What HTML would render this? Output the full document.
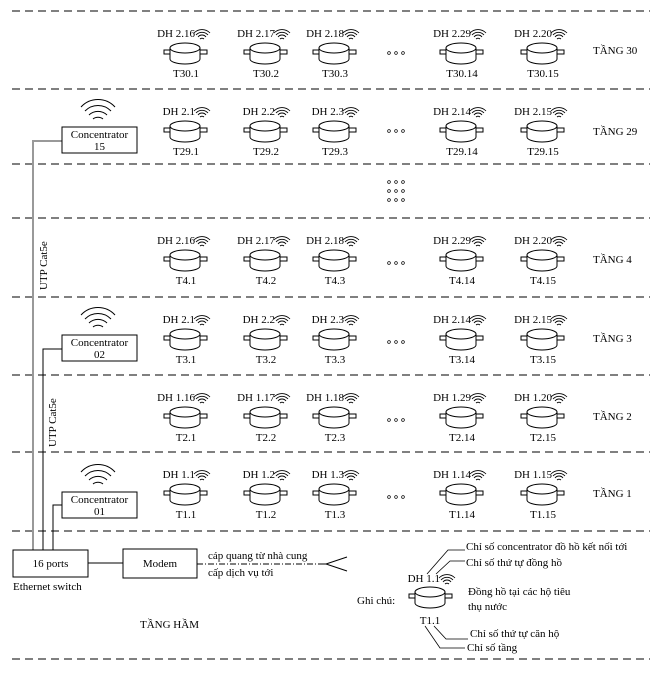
<!DOCTYPE html>
<html><head><meta charset="utf-8"><style>
html,body{margin:0;padding:0;background:#fff}
svg{display:block}
text{font-family:"Liberation Serif",serif;font-size:11px;fill:#000}
</style></head><body>
<svg width="662" height="680" viewBox="0 0 662 680" xmlns="http://www.w3.org/2000/svg">
<defs>
<g id="m" fill="#fff" stroke="#000" stroke-width="1">
<rect x="-21" y="2" width="6" height="4"/>
<rect x="15" y="2" width="7" height="4"/>
<path d="M-15,0 L-15,11 A15,5 0 0 0 15,11 L15,0"/>
<ellipse cx="0" cy="0" rx="15" ry="5"/>
</g>
<g id="w" fill="none" stroke="#000" stroke-width="0.9">
<path d="M-2,-2 A3,3 0 0 1 2,-2"/>
<path d="M-4,-4 A5,5 0 0 1 4,-4"/>
<path d="M-6,-6 A8,8 0 0 1 6,-6"/>
<path d="M-8,-8 A11,11 0 0 1 8,-8"/>
</g>
<g id="bw" fill="none" stroke="#000" stroke-width="1">
<path d="M-5,-6 A8,8 0 0 1 5,-6"/>
<path d="M-9,-10 A13,13 0 0 1 9,-10"/>
<path d="M-13,-14 A18,18 0 0 1 13,-14"/>
<path d="M-17,-18 A23,23 0 0 1 17,-18"/>
</g>
<g id="d"><circle cx="-7" cy="0" r="1.4" fill="none" stroke="#000" stroke-width="0.7"/><circle cx="0" cy="0" r="1.4" fill="none" stroke="#000" stroke-width="0.7"/><circle cx="7" cy="0" r="1.4" fill="none" stroke="#000" stroke-width="0.7"/></g>
</defs>
<g stroke="#000" stroke-width="1" stroke-dasharray="8,5">
<line x1="12" y1="11" x2="650" y2="11"/>
<line x1="12" y1="89" x2="650" y2="89"/>
<line x1="12" y1="164" x2="650" y2="164"/>
<line x1="12" y1="218" x2="650" y2="218"/>
<line x1="12" y1="297" x2="650" y2="297"/>
<line x1="12" y1="375" x2="650" y2="375"/>
<line x1="12" y1="452" x2="650" y2="452"/>
<line x1="12" y1="531" x2="650" y2="531"/>
<line x1="12" y1="659" x2="650" y2="659"/>
</g>
<!-- cables -->
<polyline points="62,141 33,141 33,550" fill="none" stroke="#999" stroke-width="2"/>
<polyline points="62,349 43,349 43,550" fill="none" stroke="#000" stroke-width="1"/>
<polyline points="62,505 53,505 53,550" fill="none" stroke="#000" stroke-width="1"/>
<text transform="translate(47,290) rotate(-90)">UTP Cat5e</text>
<text transform="translate(56,447) rotate(-90)">UTP Cat5e</text>
<!-- concentrators -->
<rect x="62" y="127" width="75" height="26" fill="#fff" stroke="#000"/>
<text x="99.5" y="138" text-anchor="middle">Concentrator</text><text x="99.5" y="150" text-anchor="middle">15</text>
<use href="#bw" x="98" y="125"/>
<rect x="62" y="335" width="75" height="26" fill="#fff" stroke="#000"/>
<text x="99.5" y="346" text-anchor="middle">Concentrator</text><text x="99.5" y="358" text-anchor="middle">02</text>
<use href="#bw" x="98" y="333"/>
<rect x="62" y="492" width="75" height="26" fill="#fff" stroke="#000"/>
<text x="99.5" y="503" text-anchor="middle">Concentrator</text><text x="99.5" y="515" text-anchor="middle">01</text>
<use href="#bw" x="98" y="490"/>
<!-- switch/modem -->
<rect x="13" y="550" width="75" height="27" fill="#fff" stroke="#000"/>
<text x="50.5" y="567" text-anchor="middle">16 ports</text>
<text x="13" y="590">Ethernet switch</text>
<line x1="88" y1="563" x2="123" y2="563" stroke="#000"/>
<rect x="123" y="549" width="74" height="29" fill="#fff" stroke="#000"/>
<text x="160" y="567" text-anchor="middle">Modem</text>
<line x1="197" y1="564" x2="325" y2="564" stroke="#000" stroke-dasharray="6,2,1,2"/>
<polyline points="347,557 326,564 347,571" fill="none" stroke="#000"/>
<line x1="318" y1="564" x2="327" y2="564" stroke="#000"/>
<text x="208" y="559">cáp quang từ nhà cung</text>
<text x="208" y="576">cấp dịch vụ tới</text>
<text x="140" y="628">TẦNG HẦM</text>
<!-- rows -->
<!-- row30 T=11 -->
<g>
<use href="#m" x="185" y="48"/><use href="#m" x="265" y="48"/><use href="#m" x="334" y="48"/><use href="#m" x="461" y="48"/><use href="#m" x="542" y="48"/>
<use href="#w" x="202" y="41"/><use href="#w" x="282" y="41"/><use href="#w" x="351" y="41"/><use href="#w" x="478" y="41"/><use href="#w" x="559" y="41"/>
<text x="195" y="37" text-anchor="end">DH 2.16</text><text x="275" y="37" text-anchor="end">DH 2.17</text><text x="344" y="37" text-anchor="end">DH 2.18</text><text x="471" y="37" text-anchor="end">DH 2.29</text><text x="552" y="37" text-anchor="end">DH 2.20</text>
<text x="186" y="77" text-anchor="middle">T30.1</text><text x="266" y="77" text-anchor="middle">T30.2</text><text x="335" y="77" text-anchor="middle">T30.3</text><text x="462" y="77" text-anchor="middle">T30.14</text><text x="543" y="77" text-anchor="middle">T30.15</text>
<use href="#d" x="396" y="53"/><text x="593" y="54">TẦNG 30</text>
</g>
<g transform="translate(0,78)">
<use href="#m" x="185" y="48"/><use href="#m" x="265" y="48"/><use href="#m" x="334" y="48"/><use href="#m" x="461" y="48"/><use href="#m" x="542" y="48"/>
<use href="#w" x="202" y="41"/><use href="#w" x="282" y="41"/><use href="#w" x="351" y="41"/><use href="#w" x="478" y="41"/><use href="#w" x="559" y="41"/>
<text x="195" y="37" text-anchor="end">DH 2.1</text><text x="275" y="37" text-anchor="end">DH 2.2</text><text x="344" y="37" text-anchor="end">DH 2.3</text><text x="471" y="37" text-anchor="end">DH 2.14</text><text x="552" y="37" text-anchor="end">DH 2.15</text>
<text x="186" y="77" text-anchor="middle">T29.1</text><text x="266" y="77" text-anchor="middle">T29.2</text><text x="335" y="77" text-anchor="middle">T29.3</text><text x="462" y="77" text-anchor="middle">T29.14</text><text x="543" y="77" text-anchor="middle">T29.15</text>
<use href="#d" x="396" y="53"/><text x="593" y="57">TẦNG 29</text>
</g>
<use href="#d" x="396" y="182"/><use href="#d" x="396" y="191"/><use href="#d" x="396" y="200"/>
<g transform="translate(0,207)">
<use href="#m" x="185" y="48"/><use href="#m" x="265" y="48"/><use href="#m" x="334" y="48"/><use href="#m" x="461" y="48"/><use href="#m" x="542" y="48"/>
<use href="#w" x="202" y="41"/><use href="#w" x="282" y="41"/><use href="#w" x="351" y="41"/><use href="#w" x="478" y="41"/><use href="#w" x="559" y="41"/>
<text x="195" y="37" text-anchor="end">DH 2.16</text><text x="275" y="37" text-anchor="end">DH 2.17</text><text x="344" y="37" text-anchor="end">DH 2.18</text><text x="471" y="37" text-anchor="end">DH 2.29</text><text x="552" y="37" text-anchor="end">DH 2.20</text>
<text x="186" y="77" text-anchor="middle">T4.1</text><text x="266" y="77" text-anchor="middle">T4.2</text><text x="335" y="77" text-anchor="middle">T4.3</text><text x="462" y="77" text-anchor="middle">T4.14</text><text x="543" y="77" text-anchor="middle">T4.15</text>
<use href="#d" x="396" y="56"/><text x="593" y="56">TẦNG 4</text>
</g>
<g transform="translate(0,286)">
<use href="#m" x="185" y="48"/><use href="#m" x="265" y="48"/><use href="#m" x="334" y="48"/><use href="#m" x="461" y="48"/><use href="#m" x="542" y="48"/>
<use href="#w" x="202" y="41"/><use href="#w" x="282" y="41"/><use href="#w" x="351" y="41"/><use href="#w" x="478" y="41"/><use href="#w" x="559" y="41"/>
<text x="195" y="37" text-anchor="end">DH 2.1</text><text x="275" y="37" text-anchor="end">DH 2.2</text><text x="344" y="37" text-anchor="end">DH 2.3</text><text x="471" y="37" text-anchor="end">DH 2.14</text><text x="552" y="37" text-anchor="end">DH 2.15</text>
<text x="186" y="77" text-anchor="middle">T3.1</text><text x="266" y="77" text-anchor="middle">T3.2</text><text x="335" y="77" text-anchor="middle">T3.3</text><text x="462" y="77" text-anchor="middle">T3.14</text><text x="543" y="77" text-anchor="middle">T3.15</text>
<use href="#d" x="396" y="56"/><text x="593" y="56">TẦNG 3</text>
</g>
<g transform="translate(0,364)">
<use href="#m" x="185" y="48"/><use href="#m" x="265" y="48"/><use href="#m" x="334" y="48"/><use href="#m" x="461" y="48"/><use href="#m" x="542" y="48"/>
<use href="#w" x="202" y="41"/><use href="#w" x="282" y="41"/><use href="#w" x="351" y="41"/><use href="#w" x="478" y="41"/><use href="#w" x="559" y="41"/>
<text x="195" y="37" text-anchor="end">DH 1.16</text><text x="275" y="37" text-anchor="end">DH 1.17</text><text x="344" y="37" text-anchor="end">DH 1.18</text><text x="471" y="37" text-anchor="end">DH 1.29</text><text x="552" y="37" text-anchor="end">DH 1.20</text>
<text x="186" y="77" text-anchor="middle">T2.1</text><text x="266" y="77" text-anchor="middle">T2.2</text><text x="335" y="77" text-anchor="middle">T2.3</text><text x="462" y="77" text-anchor="middle">T2.14</text><text x="543" y="77" text-anchor="middle">T2.15</text>
<use href="#d" x="396" y="56"/><text x="593" y="56">TẦNG 2</text>
</g>
<g transform="translate(0,441)">
<use href="#m" x="185" y="48"/><use href="#m" x="265" y="48"/><use href="#m" x="334" y="48"/><use href="#m" x="461" y="48"/><use href="#m" x="542" y="48"/>
<use href="#w" x="202" y="41"/><use href="#w" x="282" y="41"/><use href="#w" x="351" y="41"/><use href="#w" x="478" y="41"/><use href="#w" x="559" y="41"/>
<text x="195" y="37" text-anchor="end">DH 1.1</text><text x="275" y="37" text-anchor="end">DH 1.2</text><text x="344" y="37" text-anchor="end">DH 1.3</text><text x="471" y="37" text-anchor="end">DH 1.14</text><text x="552" y="37" text-anchor="end">DH 1.15</text>
<text x="186" y="77" text-anchor="middle">T1.1</text><text x="266" y="77" text-anchor="middle">T1.2</text><text x="335" y="77" text-anchor="middle">T1.3</text><text x="462" y="77" text-anchor="middle">T1.14</text><text x="543" y="77" text-anchor="middle">T1.15</text>
<use href="#d" x="396" y="56"/><text x="593" y="56">TẦNG 1</text>
</g>
<!-- legend -->
<text x="357" y="604">Ghi chú:</text>
<use href="#m" x="430" y="592"/>
<use href="#w" x="447" y="586"/>
<text x="440" y="582" text-anchor="end">DH 1.1</text>
<text x="430" y="624" text-anchor="middle">T1.1</text>
<g fill="none" stroke="#000" stroke-width="0.8">
<polyline points="427,574 448,550 465,550"/>
<polyline points="436,574 450,561 465,561"/>
<polyline points="434,626 446,639 468,639"/>
<polyline points="425,626 440,648 465,648"/>
</g>
<text x="466" y="550">Chỉ số concentrator đồ hồ kết nối tới</text>
<text x="466" y="566">Chỉ số thứ tự đồng hồ</text>
<text x="468" y="595">Đồng hồ tại các hộ tiêu</text>
<text x="468" y="610">thụ nước</text>
<text x="470" y="637">Chỉ số thứ tự căn hộ</text>
<text x="467" y="651">Chỉ số tầng</text>
</svg>
</body></html>
